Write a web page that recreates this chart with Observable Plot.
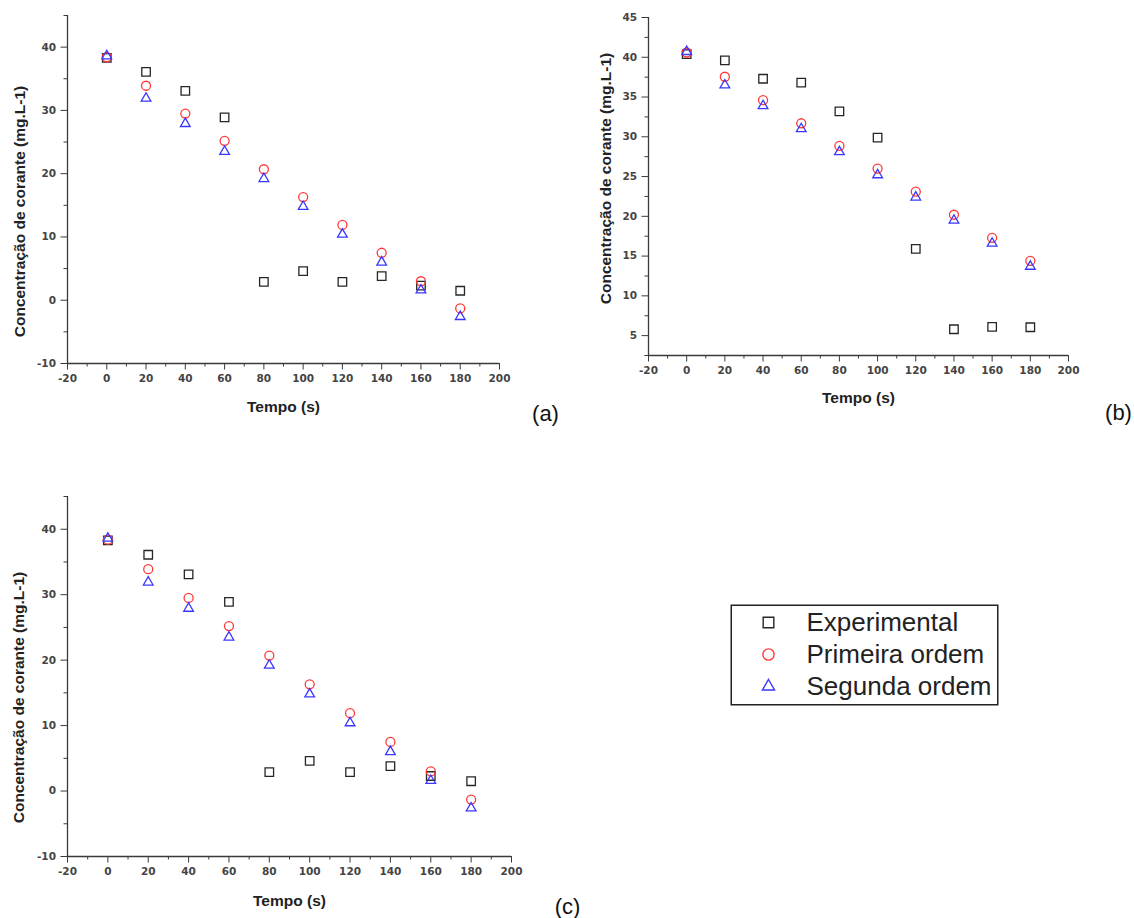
<!DOCTYPE html>
<html><head><meta charset="utf-8">
<script src="https://cdn.jsdelivr.net/npm/d3@7"></script>
<script src="https://cdn.jsdelivr.net/npm/@observablehq/plot@0.6"></script>
<style>
html,body{margin:0;padding:0;background:#fff;}
#root{position:relative;width:1134px;height:918px;overflow:hidden;background:#fff;}
</style></head><body><div id="root"></div>
<script>
// ---------- data ----------
const tempo = [0, 20, 40, 60, 80, 100, 120, 140, 160, 180];
const seriesNames = ["Experimental", "Primeira ordem", "Segunda ordem"];

// panel (a)
const expA  = [38.3, 36.1, 33.1, 28.9, 2.9, 4.6, 2.9, 3.8, 2.3, 1.5];
const primA = [38.4, 33.9, 29.5, 25.2, 20.7, 16.3, 11.9, 7.5, 3.0, -1.3];
const segA  = [38.6, 31.9, 27.9, 23.5, 19.2, 14.8, 10.4, 6.0, 1.6, -2.6];
// panel (b)
const expB  = [40.4, 39.6, 37.3, 36.8, 33.2, 29.9, 15.9, 5.8, 6.1, 6.05];
const primB = [40.6, 37.55, 34.6, 31.7, 28.85, 26.0, 23.1, 20.2, 17.3, 14.4];
const segB  = [40.7, 36.5, 33.9, 31.0, 28.1, 25.2, 22.4, 19.5, 16.6, 13.7];
// panel (c)
const expC  = [38.3, 36.1, 33.1, 28.9, 2.9, 4.6, 2.9, 3.8, 2.3, 1.5];
const primC = [38.4, 33.9, 29.5, 25.2, 20.7, 16.3, 11.9, 7.5, 3.0, -1.3];
const segC  = [38.6, 31.9, 27.9, 23.5, 19.2, 14.8, 10.4, 6.0, 1.6, -2.6];

// ticks
const xTicks = [-20, 0, 20, 40, 60, 80, 100, 120, 140, 160, 180, 200];
const xMinor = [-10, 10, 30, 50, 70, 90, 110, 130, 150, 170, 190];
const yTicksAC = [-10, 0, 10, 20, 30, 40];
const yMinorAC = [-5, 5, 15, 25, 35, 45];
const yTicksB = [5, 10, 15, 20, 25, 30, 35, 40, 45];
const yMinorB = [2.5, 7.5, 12.5, 17.5, 22.5, 27.5, 32.5, 37.5, 42.5];
const xDomain = [-20, 200];
const yDomainAC = [-10, 45];
const yDomainB = [2.5, 45];

const xLabel = "Tempo (s)";
const yLabel = "Concentração de corante (mg.L-1)";
const panelLabels = ["(a)", "(b)", "(c)"];

// ---------- styles ----------
const seriesStyle = {
  "Experimental":   {symbol: "square",   stroke: "#262626", r: 4.8},
  "Primeira ordem": {symbol: "circle",   stroke: "#ff3838", r: 4.5},
  "Segunda ordem":  {symbol: "triangle", stroke: "#3838ff", r: 3.6}
};
const axisColor = "#3a3a3a";
const sans = "'Liberation Sans', Arial, sans-serif";
const tickFont = "'DejaVu Sans', sans-serif";

function panel(cfg) {
  const rows = [];
  cfg.series.forEach((vals, si) => vals.forEach((v, i) => rows.push({t: tempo[i], c: v, s: seriesNames[si]})));
  const marks = [
    Plot.axisX(xMinor, {tickSize: 3.5, tickFormat: () => "", label: null, stroke: axisColor}),
    Plot.axisX(xTicks, {tickSize: 6.5, tickPadding: 4.5, tickFormat: d => String(d), label: null,
      stroke: axisColor, fill: "#444", fontFamily: tickFont, fontSize: 10.5, fontWeight: "bold"}),
    Plot.axisY(cfg.yMinor, {tickSize: 3.5, tickFormat: () => "", label: null, stroke: axisColor}),
    Plot.axisY(cfg.yTicks, {tickSize: 6.5, tickPadding: 5, tickFormat: d => String(d), label: null,
      stroke: axisColor, fill: "#444", fontFamily: tickFont, fontSize: 10.5, fontWeight: "bold"}),
    Plot.ruleX([xDomain[0]], {stroke: axisColor, strokeWidth: 1.3}),
    Plot.ruleY([cfg.yDomain[0]], {stroke: axisColor, strokeWidth: 1.3}),
    Plot.text([xLabel], {text: d => d, frameAnchor: "bottom", dy: cfg.xLabelDy, lineAnchor: "middle",
      fontFamily: sans, fontSize: 15.5, fontWeight: "bold", fill: "#222"}),
    Plot.text([yLabel], {text: d => d, frameAnchor: "left", rotate: -90, dx: cfg.yLabelDx, dy: cfg.yLabelDy,
      textAnchor: "middle", lineAnchor: "middle", fontFamily: sans, fontSize: 15.5, fontWeight: "bold", fill: "#222"}),
    Plot.text([cfg.label], {text: d => d, frameAnchor: "bottom-right", dx: cfg.labelDx, dy: cfg.labelDy,
      textAnchor: "middle", lineAnchor: "middle", fontFamily: sans, fontSize: 22, fill: "#111"})
  ];
  seriesNames.forEach(name => {
    const st = seriesStyle[name];
    marks.push(Plot.dot(rows.filter(d => d.s === name), {x: "t", y: "c", symbol: st.symbol, r: st.r,
      stroke: st.stroke, fill: "none", strokeWidth: 1.3}));
  });
  const svg = Plot.plot({
    width: cfg.width, height: cfg.height,
    marginLeft: cfg.ml, marginRight: cfg.mr, marginTop: cfg.mt, marginBottom: cfg.mb,
    x: {domain: xDomain},
    y: {domain: cfg.yDomain},
    style: {position: "absolute", left: cfg.left + "px", top: cfg.top + "px", overflow: "visible",
      background: "transparent", color: axisColor},
    marks
  });
  document.getElementById("root").appendChild(svg);
}

panel({left: 0, top: 0, width: 570, height: 430, ml: 67, mr: 71, mt: 15, mb: 67,
  yDomain: yDomainAC, yTicks: yTicksAC, yMinor: yMinorAC, series: [expA, primA, segA],
  xLabelDy: 44, yLabelDx: -47, yLabelDy: 22, label: panelLabels[0], labelDx: 46, labelDy: 50});

panel({left: 580, top: 0, width: 554, height: 430, ml: 68, mr: 66, mt: 17, mb: 75,
  yDomain: yDomainB, yTicks: yTicksB, yMinor: yMinorB, series: [expB, primB, segB],
  xLabelDy: 43, yLabelDx: -42, yLabelDy: -8, label: panelLabels[1], labelDx: 50, labelDy: 57});

panel({left: 0, top: 480, width: 600, height: 438, ml: 67, mr: 89, mt: 16, mb: 62,
  yDomain: yDomainAC, yTicks: yTicksAC, yMinor: yMinorAC, series: [expC, primC, segC],
  xLabelDy: 45, yLabelDx: -48, yLabelDy: 21, label: panelLabels[2], labelDx: 56, labelDy: 50});

// ---------- legend ----------
const legendMarks = [Plot.frame({stroke: "#222", strokeWidth: 1.5, inset: 0.75})];
seriesNames.forEach(name => {
  const st = seriesStyle[name];
  legendMarks.push(Plot.dot([name], {y: d => d, frameAnchor: "left", dx: 38, symbol: st.symbol,
    r: st.r * 1.25, stroke: st.stroke, fill: "none", strokeWidth: 1.4}));
});
legendMarks.push(Plot.text(seriesNames, {y: d => d, text: d => d, frameAnchor: "left", dx: 76,
  textAnchor: "start", lineAnchor: "middle", fontFamily: sans, fontSize: 26, fill: "#222"}));
const legend = Plot.plot({
  width: 268, height: 101, margin: 0,
  y: {type: "point", domain: seriesNames, range: [18, 82], padding: 0, axis: null},
  style: {position: "absolute", left: "730px", top: "604px", overflow: "visible", background: "transparent"},
  marks: legendMarks
});
document.getElementById("root").appendChild(legend);
</script></body></html>
